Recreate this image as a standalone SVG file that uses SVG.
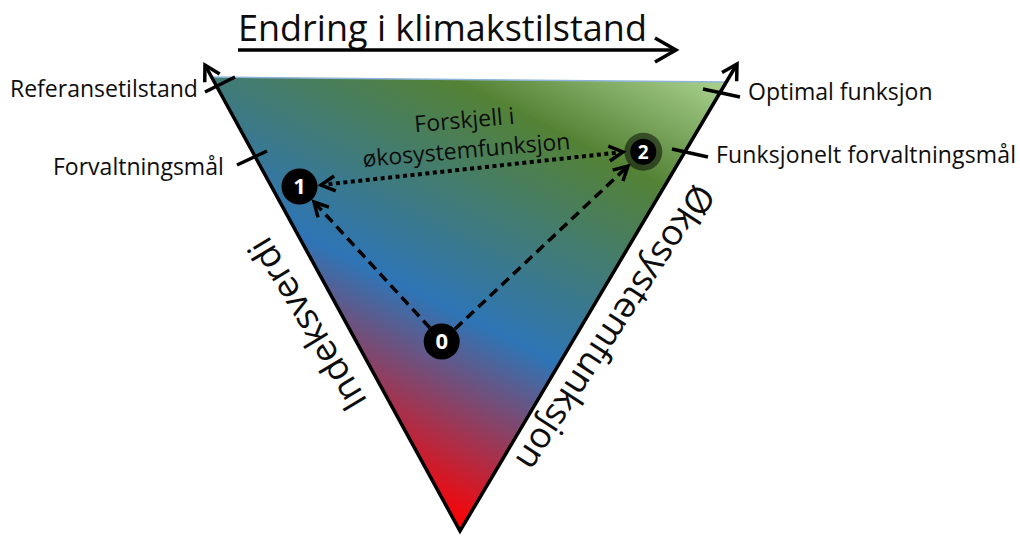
<svg xmlns="http://www.w3.org/2000/svg" width="1020" height="536" viewBox="0 0 1020 536">
<defs>
<linearGradient id="grad" gradientUnits="userSpaceOnUse" x1="460" y1="530" x2="694" y2="68">
<stop offset="0" stop-color="#ff0000"/>
<stop offset="0.37" stop-color="#2e75b6"/>
<stop offset="0.77" stop-color="#548235"/>
<stop offset="1" stop-color="#a9d18e"/>
</linearGradient>
<marker id="ahBig" markerUnits="userSpaceOnUse" viewBox="-26 -16 30 32" refX="0" refY="0" markerWidth="30" markerHeight="32" orient="auto-start-reverse" overflow="visible">
<path d="M-21,-12 L0,0 L-21,12" fill="none" stroke="#000" stroke-width="3.5"/>
</marker>
<marker id="ah" markerUnits="userSpaceOnUse" viewBox="-20 -12 24 24" refX="0" refY="0" markerWidth="24" markerHeight="24" orient="auto-start-reverse" overflow="visible">
<path d="M-15,-8.5 L0,0 L-15,8.5" fill="none" stroke="#000" stroke-width="3.5"/>
</marker>
<marker id="ahs" markerUnits="userSpaceOnUse" viewBox="-20 -12 24 24" refX="0" refY="0" markerWidth="24" markerHeight="24" orient="auto-start-reverse" overflow="visible">
<path d="M-14,-7.5 L0,0 L-14,7.5" fill="none" stroke="#000" stroke-width="3.5"/>
</marker>
</defs>
<style>
text { font-family: "Open Sans", "Liberation Sans", sans-serif; fill: #0d0d0d; }
.title { font-size: 36px; }
.lbl { font-size: 23px; }
.axis { font-size: 36px; }
.num { font-size: 22px; font-weight: bold; fill: #ffffff; text-anchor: middle; }
.tick { stroke: #000; stroke-width: 3.5; fill: none; }
.edge { stroke: #000; stroke-width: 3.5; fill: none; stroke-linejoin: miter; }
.dash { stroke: #000; stroke-width: 3.5; stroke-dasharray: 10 6; fill: none; }
.dot { stroke: #000; stroke-width: 4; stroke-dasharray: 4 3.5; fill: none; }
.node { fill: #000; }
</style>

<g id="triangle">
<polygon points="211.6,77 727,82 460,530" fill="url(#grad)"/>
<line x1="211.6" y1="77" x2="727" y2="82" stroke="#8fb4d9" stroke-width="1.5"/>
<path class="edge" d="M205,65 L460,531 L737,64" marker-start="url(#ah)" marker-end="url(#ah)"/>
</g>

<g id="ticks">
<line class="tick" x1="205" y1="92" x2="235" y2="77"/>
<line class="tick" x1="237" y1="165" x2="267" y2="151"/>
<line class="tick" x1="703" y1="89" x2="740" y2="97"/>
<line class="tick" x1="672" y1="149" x2="708" y2="157"/>
</g>

<g id="title">
<text class="title" x="238" y="41">Endring i klimakstilstand</text>
<line x1="238" y1="50" x2="676" y2="50" stroke="#000" stroke-width="3.5" marker-end="url(#ahBig)"/>
</g>

<g id="labels">
<text class="lbl" x="10" y="97">Referansetilstand</text>
<text class="lbl" x="53" y="175">Forvaltningsmål</text>
<text class="lbl" x="748" y="100">Optimal funksjon</text>
<text class="lbl" x="716" y="163" textLength="300">Funksjonelt forvaltningsmål</text>
<text class="axis" x="318" y="318" text-anchor="middle" transform="rotate(-121 318 318)">Indeksverdi</text>
<text class="axis" x="605" y="321" text-anchor="middle" transform="rotate(123 605 321)">Økosystemfunksjon</text>
<text class="lbl" x="465" y="128" text-anchor="middle" transform="rotate(-5 465 128)">Forskjell i</text>
<text class="lbl" x="467" y="158" text-anchor="middle" transform="rotate(-5 467 158)">økosystemfunksjon</text>
</g>

<g id="connectors">
<line class="dash" x1="430" y1="328" x2="314" y2="202" marker-end="url(#ahs)"/>
<line class="dash" x1="455" y1="329" x2="628" y2="166" marker-end="url(#ahs)"/>
<line class="dot" x1="321" y1="185" x2="623" y2="152" marker-start="url(#ahs)" marker-end="url(#ahs)"/>
</g>

<g id="node0">
<circle class="node" cx="441.7" cy="341.5" r="18"/>
<text class="num" x="441.7" y="349">0</text>
</g>
<g id="node1">
<circle class="node" cx="299.5" cy="186.5" r="18"/>
<text class="num" x="299.5" y="194">1</text>
</g>
<g id="node2">
<circle cx="643.3" cy="151.7" r="19" fill="#000" fill-opacity="0.5"/>
<circle class="node" cx="643.3" cy="151.7" r="13"/>
<text class="num" x="643.3" y="158.5" style="font-size:19px">2</text>
</g>
</svg>
